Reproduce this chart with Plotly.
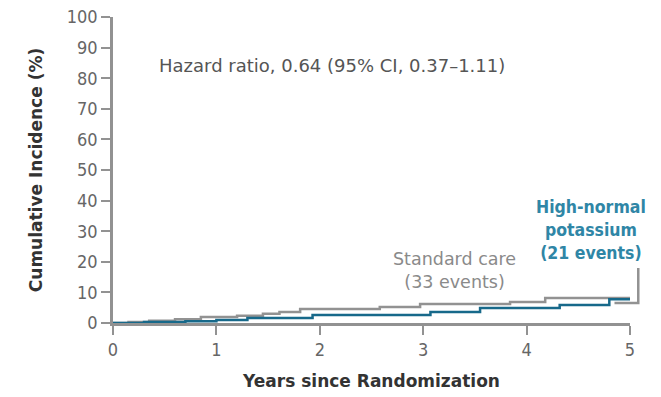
import plotly.graph_objects as go

# Step data: (years, cumulative incidence %)
std_x = [0.0, 0.15, 0.35, 0.6, 0.85, 1.2, 1.45, 1.61, 1.81, 2.58, 2.97, 3.84, 4.18, 5.02]
std_y = [0.0, 0.3, 0.7, 1.2, 2.0, 2.4, 3.0, 3.6, 4.6, 5.2, 6.2, 6.9, 8.2, 8.2]

hk_x = [0.0, 0.3, 0.7, 1.0, 1.3, 1.93, 3.07, 3.55, 4.32, 4.8, 5.02]
hk_y = [0.0, 0.3, 0.6, 1.0, 1.6, 2.6, 3.6, 4.9, 5.9, 7.8, 7.8]

x_ticks = [0, 1, 2, 3, 4, 5]
y_ticks = [0, 10, 20, 30, 40, 50, 60, 70, 80, 90, 100]

GRAY = "#929292"
TEAL = "#17698a"
TEAL_TXT = "#2f86a6"
FONT_C = "DejaVu Sans Condensed"
FONT = "DejaVu Sans"

fig = go.Figure()
fig.add_trace(go.Scatter(x=std_x, y=std_y, mode="lines", line=dict(color=GRAY, width=2.5, shape="hv"),
                         name="Standard care", showlegend=False, hoverinfo="skip"))
fig.add_trace(go.Scatter(x=hk_x, y=hk_y, mode="lines", line=dict(color=TEAL, width=2.5, shape="hv"),
                         name="High-normal potassium", showlegend=False, hoverinfo="skip"))

xmax = 5
# leader line from the high-normal label down to its curve end
fig.add_shape(type="path", xref="paper", yref="y",
              path=f"M {5.08/xmax} 18 L {5.08/xmax} 6.5 L {4.85/xmax} 6.5",
              line=dict(color=GRAY, width=2.5))

fig.add_annotation(x=0.43, y=84, xref="x", yref="y", text="Hazard ratio, 0.64 (95% CI, 0.37\u20131.11)",
                   showarrow=False, xanchor="left", font=dict(family=FONT, size=18, color="#555555"))
fig.add_annotation(x=3.3, y=17.3, xref="x", yref="y", text="Standard care<br>(33 events)",
                   showarrow=False, align="center", font=dict(family=FONT, size=17.5, color="#8a8a8a"))
fig.add_annotation(x=4.62, y=30.5, xref="x", yref="y", text="<b>High-normal<br>potassium<br>(21 events)</b>",
                   showarrow=False, align="center", font=dict(family=FONT_C, size=17.5, color=TEAL_TXT))

axis_common = dict(showline=True, linecolor=GRAY, linewidth=2.5, ticks="outside", tickcolor=GRAY,
                   ticklen=9, tickwidth=2, showgrid=False, zeroline=False, automargin=False,
                   tickfont=dict(family=FONT_C, size=18, color="#666666"))

fig.update_xaxes(range=[0, 5], tickvals=x_ticks, **axis_common,
                 title=dict(text="<b>Years since Randomization</b>", standoff=16,
                            font=dict(family=FONT, size=17, color="#333333")))
fig.update_yaxes(range=[0, 100], tickvals=y_ticks, **axis_common,
                 title=dict(text="<b>Cumulative Incidence (%)</b>", standoff=20,
                            font=dict(family=FONT, size=17, color="#333333")))

fig.update_layout(width=661, height=397, margin=dict(l=113, r=31, t=17, b=74, autoexpand=False),
                  plot_bgcolor="white", paper_bgcolor="white")

fig.write_html("out.html")
